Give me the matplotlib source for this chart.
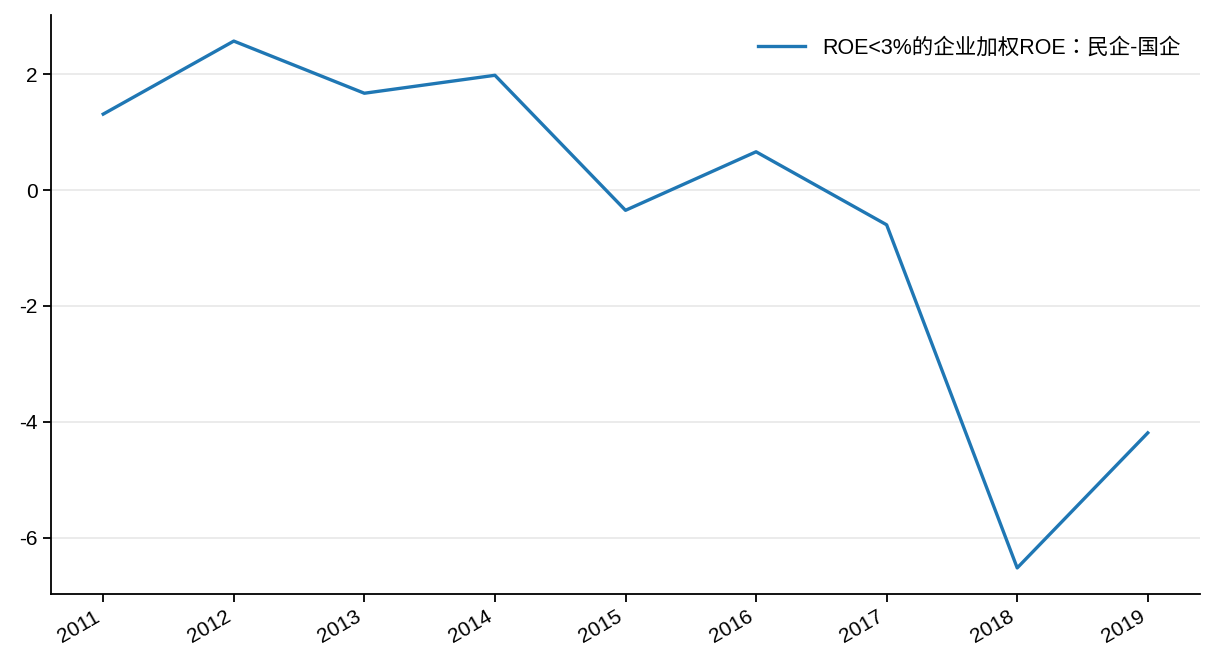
import matplotlib
matplotlib.use("Agg")
import matplotlib.pyplot as plt

years = [2011, 2012, 2013, 2014, 2015, 2016, 2017, 2018, 2019]
values = [1.31, 2.57, 1.67, 1.98, -0.35, 0.66, -0.60, -6.52, -4.19]
label = "ROE<3%的企业加权ROE：民企-国企"

plt.rcParams['font.family'] = ['Liberation Sans', 'Noto Sans CJK TC', 'DejaVu Sans']
plt.rcParams['axes.unicode_minus'] = False

fig = plt.figure(figsize=(12.16, 6.72), dpi=100)
ax = fig.add_axes([51/1216, 1 - 594/672, (1200-51)/1216, (594-15)/672])
ax.plot(years, values, color='#1f77b4', linewidth=2.4, label=label)
ax.set_xlim(2011 - 0.4, 2019 + 0.4)
ax.set_ylim(-6.97, 3.02)
ax.set_yticks([-6, -4, -2, 0, 2])
ax.set_xticks(years)
ax.set_xticklabels([str(y) for y in years], rotation=30, ha='right')
ax.tick_params(labelsize=15, length=6, width=1.3, colors='black')
ax.grid(axis='y', color='#e5e5e5', linewidth=1.1)
ax.set_axisbelow(True)
for s in ['top', 'right']:
    ax.spines[s].set_visible(False)
for s in ['left', 'bottom']:
    ax.spines[s].set_linewidth(1.3)
ax.legend(loc='upper right', frameon=False, fontsize=15.5, handlelength=2.2,
          bbox_to_anchor=(1.0, 0.995))
fig.savefig('out.png', dpi=100)
